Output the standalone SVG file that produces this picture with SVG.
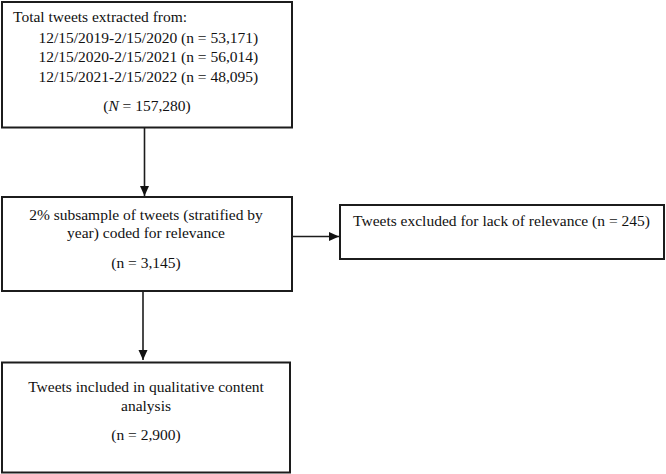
<svg xmlns="http://www.w3.org/2000/svg" width="666" height="474" viewBox="0 0 666 474">
<defs>
<style>
.box{fill:#fff;stroke:#1c1c1c;stroke-width:2}
.t{font-family:"Liberation Serif","Times New Roman",serif;font-size:15.5px;fill:#111}
.c{text-anchor:middle}
.ln{stroke:#1c1c1c;stroke-width:1.6;fill:none}
</style>
<marker id="ah" viewBox="0 0 10 10" refX="10" refY="5" markerUnits="userSpaceOnUse" markerWidth="10" markerHeight="10" orient="auto">
<path d="M0,0.5 L10,5 L0,9.5 Z" fill="#111"/>
</marker>
</defs>
<rect width="666" height="474" fill="#fff"/>
<g id="connectors">
<line class="ln" x1="144.5" y1="128" x2="144.5" y2="196" marker-end="url(#ah)"/>
<line class="ln" x1="292" y1="236.5" x2="339" y2="236.5" marker-end="url(#ah)"/>
<line class="ln" x1="143" y1="291" x2="143" y2="360" marker-end="url(#ah)"/>
</g>
<g id="node-total">
<rect class="box" x="2" y="2" width="290" height="125.5"/>
<text class="t" x="13" y="22">Total tweets extracted from:</text>
<text class="t" x="38.5" y="42.5">12/15/2019-2/15/2020 (n = 53,171)</text>
<text class="t" x="38.5" y="62">12/15/2020-2/15/2021 (n = 56,014)</text>
<text class="t" x="38.5" y="81.5">12/15/2021-2/15/2022 (n = 48,095)</text>
<text class="t c" x="147" y="110.5">(<tspan font-style="italic">N</tspan> = 157,280)</text>
</g>
<g id="node-subsample">
<rect class="box" x="2" y="197" width="290" height="94"/>
<text class="t c" x="146" y="219.5">2% subsample of tweets (stratified by</text>
<text class="t c" x="146" y="237.5">year) coded for relevance</text>
<text class="t c" x="146" y="267.5">(n = 3,145)</text>
</g>
<g id="node-excluded">
<rect class="box" x="340" y="205" width="324" height="54"/>
<text class="t c" x="501.5" y="226">Tweets excluded for lack of relevance (n = 245)</text>
</g>
<g id="node-included">
<rect class="box" x="2" y="362.5" width="288" height="110"/>
<text class="t c" x="146" y="391.5">Tweets included in qualitative content</text>
<text class="t c" x="146" y="410.5">analysis</text>
<text class="t c" x="146" y="440">(n = 2,900)</text>
</g>
</svg>
